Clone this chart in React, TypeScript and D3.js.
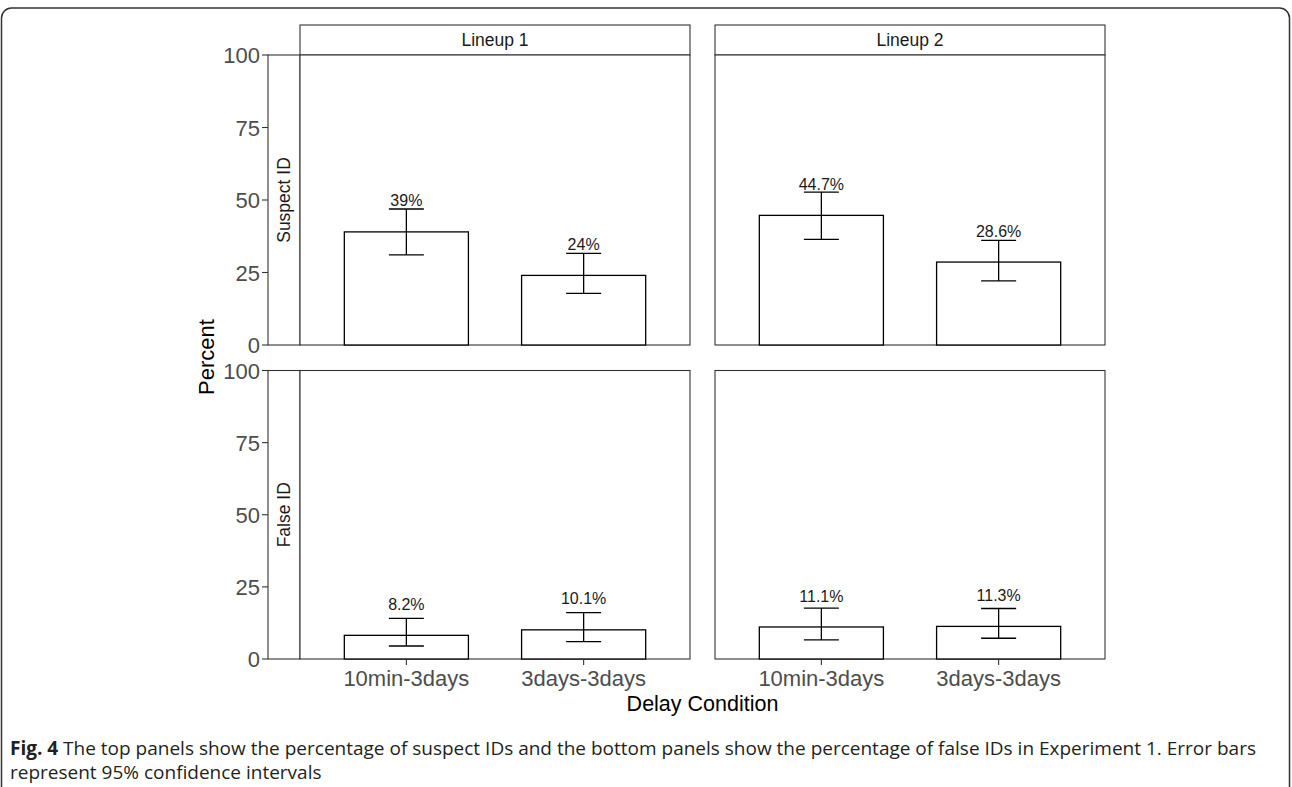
import React from "react";
import * as d3 from "d3";

// ---- data ----
const lineups = ["Lineup 1", "Lineup 2"];
const idTypes = ["Suspect ID", "False ID"];
const conditions = ["10min-3days", "3days-3days"];
const yTicks = [0, 25, 50, 75, 100];

const suspectLineup1 = [39.0, 24.0];
const suspectLineup1Low = [31.1, 17.8];
const suspectLineup1High = [46.9, 31.6];
const suspectLineup1Labels = ["39%", "24%"];

const suspectLineup2 = [44.7, 28.6];
const suspectLineup2Low = [36.4, 22.1];
const suspectLineup2High = [52.7, 36.1];
const suspectLineup2Labels = ["44.7%", "28.6%"];

const falseLineup1 = [8.2, 10.1];
const falseLineup1Low = [4.5, 6.0];
const falseLineup1High = [14.1, 16.1];
const falseLineup1Labels = ["8.2%", "10.1%"];

const falseLineup2 = [11.1, 11.3];
const falseLineup2Low = [6.6, 7.2];
const falseLineup2High = [17.6, 17.5];
const falseLineup2Labels = ["11.1%", "11.3%"];

const panels = [
  { row: 0, col: 0, v: suspectLineup1, lo: suspectLineup1Low, hi: suspectLineup1High, lab: suspectLineup1Labels },
  { row: 0, col: 1, v: suspectLineup2, lo: suspectLineup2Low, hi: suspectLineup2High, lab: suspectLineup2Labels },
  { row: 1, col: 0, v: falseLineup1, lo: falseLineup1Low, hi: falseLineup1High, lab: falseLineup1Labels },
  { row: 1, col: 1, v: falseLineup2, lo: falseLineup2Low, hi: falseLineup2High, lab: falseLineup2Labels },
];

const W = 1292;
const H = 787;
const colRanges: [number, number][] = [[300, 690], [715, 1105]];
const rowRanges: [number, number][] = [[345, 55], [659, 370.5]];
const stripTop = 25;
const stripLeft = 268;
const FONT = "'Liberation Sans', Arial, Helvetica, sans-serif";
const CAPFONT = "'Open Sans', 'Noto Sans', sans-serif";

export default function App() {
  const xScales = colRanges.map((r) =>
    d3.scaleBand<string>().domain(conditions).range(r).paddingInner(0.3).paddingOuter(0.25)
  );
  const yScales = rowRanges.map((r) => d3.scaleLinear().domain([0, 100]).range(r));
  const whisker = 35;

  return (
    <svg
      width={W}
      height={H}
      style={{ position: "absolute", left: 0, top: 0, background: "#fff" }}
      fontFamily={FONT}
    >
      <rect x={1.5} y={8} width={1288} height={800} rx={10} fill="none" stroke="#333" strokeWidth={1.5} />

      {/* top strips */}
      {lineups.map((l, c) => (
        <g key={l}>
          <rect x={colRanges[c][0]} y={stripTop} width={colRanges[c][1] - colRanges[c][0]} height={rowRanges[0][1] - stripTop}
            fill="#fff" stroke="#333" strokeWidth={1.1} />
          <text x={(colRanges[c][0] + colRanges[c][1]) / 2} y={(stripTop + rowRanges[0][1]) / 2 + 6}
            textAnchor="middle" fontSize={17.5} fill="#1a1a1a">{l}</text>
        </g>
      ))}

      {/* left strips + y axes */}
      {idTypes.map((t, r) => {
        const y = yScales[r];
        const [y0, y1] = rowRanges[r];
        return (
          <g key={t}>
            <rect x={stripLeft} y={y1} width={colRanges[0][0] - stripLeft} height={y0 - y1}
              fill="#fff" stroke="#333" strokeWidth={1.1} />
            <text transform={`translate(${(stripLeft + colRanges[0][0]) / 2 + 6},${(y0 + y1) / 2}) rotate(-90)`}
              textAnchor="middle" fontSize={17.5} fill="#1a1a1a">{t}</text>
            {yTicks.map((tk) => (
              <g key={tk}>
                <line x1={stripLeft - 6} x2={stripLeft} y1={y(tk)} y2={y(tk)} stroke="#333" strokeWidth={1.1} />
                <text x={stripLeft - 8} y={y(tk) + 8} textAnchor="end" fontSize={22} fill="#4d4d4d">{tk}</text>
              </g>
            ))}
          </g>
        );
      })}

      {/* panels */}
      {panels.map((p, i) => {
        const x = xScales[p.col];
        const y = yScales[p.row];
        const [px0, px1] = colRanges[p.col];
        const [py0, py1] = rowRanges[p.row];
        return (
          <g key={i}>
            <rect x={px0} y={py1} width={px1 - px0} height={py0 - py1} fill="#fff" stroke="#333" strokeWidth={1.1} />
            {conditions.map((c, j) => {
              const cx = (x(c) as number) + x.bandwidth() / 2;
              return (
                <g key={c}>
                  <rect x={x(c)} y={y(p.v[j])} width={x.bandwidth()} height={y(0) - y(p.v[j])}
                    fill="#fff" stroke="#000" strokeWidth={1.3} />
                  <line x1={cx} x2={cx} y1={y(p.lo[j])} y2={y(p.hi[j])} stroke="#000" strokeWidth={1.3} />
                  <line x1={cx - whisker / 2} x2={cx + whisker / 2} y1={y(p.lo[j])} y2={y(p.lo[j])} stroke="#000" strokeWidth={1.3} />
                  <line x1={cx - whisker / 2} x2={cx + whisker / 2} y1={y(p.hi[j])} y2={y(p.hi[j])} stroke="#000" strokeWidth={1.3} />
                  <text x={cx} y={y(p.v[j] + 8.8)} textAnchor="middle" fontSize={16} fill="#1a1a1a">{p.lab[j]}</text>
                </g>
              );
            })}
          </g>
        );
      })}

      {/* x axes */}
      {xScales.map((x, c) => (
        <g key={c}>
          {conditions.map((cond) => {
            const cx = (x(cond) as number) + x.bandwidth() / 2;
            return (
              <g key={cond}>
                <line x1={cx} x2={cx} y1={rowRanges[1][0]} y2={rowRanges[1][0] + 6} stroke="#333" strokeWidth={1.1} />
                <text x={cx} y={686} textAnchor="middle" fontSize={22} fill="#4d4d4d">{cond}</text>
              </g>
            );
          })}
        </g>
      ))}

      {/* axis titles */}
      <text x={(colRanges[0][0] + colRanges[1][1]) / 2} y={711} textAnchor="middle" fontSize={21.5} fill="#000">Delay Condition</text>
      <text transform={`translate(214,${(rowRanges[0][1] + rowRanges[1][0]) / 2}) rotate(-90)`} textAnchor="middle" fontSize={22} fill="#000">Percent</text>

      {/* caption */}
      <text x={10} y={755} fontFamily={CAPFONT} fontSize={19} fill="#231f20">
        <tspan fontWeight="bold">Fig. 4</tspan>
        <tspan> The top panels show the percentage of suspect IDs and the bottom panels show the percentage of false IDs in Experiment 1. Error bars</tspan>
      </text>
      <text x={10} y={779} fontFamily={CAPFONT} fontSize={19} fill="#231f20">
        represent 95% confidence intervals
      </text>
    </svg>
  );
}
